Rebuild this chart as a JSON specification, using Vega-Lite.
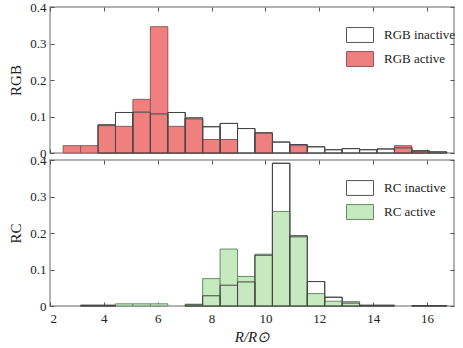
{
  "$schema": "https://vega.github.io/schema/vega-lite/v6.json",
  "padding": {"left": 8, "top": 0, "right": 9, "bottom": 3},
  "background": "white",
  "bounds": "flush",
  "config": {
    "font": "Liberation Serif",
    "view": {"stroke": "#999999", "strokeWidth": 1.5},
    "axis": {"domain": false, "grid": false, "labelFontSize": 13, "titleFontSize": 15, "labelColor": "#222222", "tickColor": "#555555", "titleFontWeight": "normal", "titleColor": "#222222", "tickSize": -4},
    "legend": {"orient": "none", "title": null, "labelFontSize": 13, "labelColor": "#222222", "symbolType": "M-1,-0.55H1V0.55H-1Z", "symbolSize": 729, "symbolStrokeWidth": 1, "labelOffset": 10, "rowPadding": -7.5}
  },
  "data": {"values": [
    {"p":"RGB","s":"RGB active","st":"active","a":2.490,"b":3.137,"v":0.020},
    {"p":"RGB","s":"RGB active","st":"active","a":3.137,"b":3.785,"v":0.020},
    {"p":"RGB","s":"RGB active","st":"active","a":3.785,"b":4.432,"v":0.075},
    {"p":"RGB","s":"RGB active","st":"active","a":4.432,"b":5.079,"v":0.073},
    {"p":"RGB","s":"RGB active","st":"active","a":5.079,"b":5.727,"v":0.147},
    {"p":"RGB","s":"RGB active","st":"active","a":5.727,"b":6.374,"v":0.346},
    {"p":"RGB","s":"RGB active","st":"active","a":6.374,"b":7.021,"v":0.073},
    {"p":"RGB","s":"RGB active","st":"active","a":7.021,"b":7.668,"v":0.093},
    {"p":"RGB","s":"RGB active","st":"active","a":7.668,"b":8.316,"v":0.037},
    {"p":"RGB","s":"RGB active","st":"active","a":8.316,"b":8.963,"v":0.037},
    {"p":"RGB","s":"RGB active","st":"active","a":9.610,"b":10.258,"v":0.055},
    {"p":"RGB","s":"RGB active","st":"active","a":10.905,"b":11.552,"v":0.020},
    {"p":"RGB","s":"RGB active","st":"active","a":14.789,"b":15.436,"v":0.020},
    {"p":"RGB","s":"RGB active","st":"active","a":15.436,"b":16.083,"v":0.004},
    {"p":"RGB","s":"RGB inactive","st":"inactive","a":3.785,"b":4.432,"v":0.077},
    {"p":"RGB","s":"RGB inactive","st":"inactive","a":4.432,"b":5.079,"v":0.111},
    {"p":"RGB","s":"RGB inactive","st":"inactive","a":5.079,"b":5.727,"v":0.112},
    {"p":"RGB","s":"RGB inactive","st":"inactive","a":5.727,"b":6.374,"v":0.107},
    {"p":"RGB","s":"RGB inactive","st":"inactive","a":6.374,"b":7.021,"v":0.111},
    {"p":"RGB","s":"RGB inactive","st":"inactive","a":7.021,"b":7.668,"v":0.096},
    {"p":"RGB","s":"RGB inactive","st":"inactive","a":7.668,"b":8.316,"v":0.072},
    {"p":"RGB","s":"RGB inactive","st":"inactive","a":8.316,"b":8.963,"v":0.081},
    {"p":"RGB","s":"RGB inactive","st":"inactive","a":8.963,"b":9.610,"v":0.067},
    {"p":"RGB","s":"RGB inactive","st":"inactive","a":9.610,"b":10.258,"v":0.055},
    {"p":"RGB","s":"RGB inactive","st":"inactive","a":10.258,"b":10.905,"v":0.030},
    {"p":"RGB","s":"RGB inactive","st":"inactive","a":10.905,"b":11.552,"v":0.023},
    {"p":"RGB","s":"RGB inactive","st":"inactive","a":11.552,"b":12.200,"v":0.017},
    {"p":"RGB","s":"RGB inactive","st":"inactive","a":12.200,"b":12.847,"v":0.009},
    {"p":"RGB","s":"RGB inactive","st":"inactive","a":12.847,"b":13.494,"v":0.012},
    {"p":"RGB","s":"RGB inactive","st":"inactive","a":13.494,"b":14.141,"v":0.009},
    {"p":"RGB","s":"RGB inactive","st":"inactive","a":14.141,"b":14.789,"v":0.011},
    {"p":"RGB","s":"RGB inactive","st":"inactive","a":14.789,"b":15.436,"v":0.014},
    {"p":"RGB","s":"RGB inactive","st":"inactive","a":15.436,"b":16.083,"v":0.006},
    {"p":"RGB","s":"RGB inactive","st":"inactive","a":16.083,"b":16.731,"v":0.003},
    {"p":"RC","s":"RC active","st":"active","a":4.432,"b":5.079,"v":0.006},
    {"p":"RC","s":"RC active","st":"active","a":5.079,"b":5.727,"v":0.006},
    {"p":"RC","s":"RC active","st":"active","a":5.727,"b":6.374,"v":0.006},
    {"p":"RC","s":"RC active","st":"active","a":7.021,"b":7.668,"v":0.005},
    {"p":"RC","s":"RC active","st":"active","a":7.668,"b":8.316,"v":0.075},
    {"p":"RC","s":"RC active","st":"active","a":8.316,"b":8.963,"v":0.156},
    {"p":"RC","s":"RC active","st":"active","a":8.963,"b":9.610,"v":0.081},
    {"p":"RC","s":"RC active","st":"active","a":9.610,"b":10.258,"v":0.142},
    {"p":"RC","s":"RC active","st":"active","a":10.258,"b":10.905,"v":0.259},
    {"p":"RC","s":"RC active","st":"active","a":10.905,"b":11.552,"v":0.189},
    {"p":"RC","s":"RC active","st":"active","a":11.552,"b":12.200,"v":0.034},
    {"p":"RC","s":"RC active","st":"active","a":12.200,"b":12.847,"v":0.013},
    {"p":"RC","s":"RC active","st":"active","a":12.847,"b":13.494,"v":0.012},
    {"p":"RC","s":"RC inactive","st":"inactive","a":3.137,"b":3.785,"v":0.002},
    {"p":"RC","s":"RC inactive","st":"inactive","a":3.785,"b":4.432,"v":0.002},
    {"p":"RC","s":"RC inactive","st":"inactive","a":7.021,"b":7.668,"v":0.003},
    {"p":"RC","s":"RC inactive","st":"inactive","a":7.668,"b":8.316,"v":0.028},
    {"p":"RC","s":"RC inactive","st":"inactive","a":8.316,"b":8.963,"v":0.057},
    {"p":"RC","s":"RC inactive","st":"inactive","a":8.963,"b":9.610,"v":0.066},
    {"p":"RC","s":"RC inactive","st":"inactive","a":9.610,"b":10.258,"v":0.139},
    {"p":"RC","s":"RC inactive","st":"inactive","a":10.258,"b":10.905,"v":0.391},
    {"p":"RC","s":"RC inactive","st":"inactive","a":10.905,"b":11.552,"v":0.192},
    {"p":"RC","s":"RC inactive","st":"inactive","a":11.552,"b":12.200,"v":0.067},
    {"p":"RC","s":"RC inactive","st":"inactive","a":12.200,"b":12.847,"v":0.024},
    {"p":"RC","s":"RC inactive","st":"inactive","a":12.847,"b":13.494,"v":0.008},
    {"p":"RC","s":"RC inactive","st":"inactive","a":13.494,"b":14.141,"v":0.002},
    {"p":"RC","s":"RC inactive","st":"inactive","a":14.141,"b":14.789,"v":0.002},
    {"p":"RC","s":"RC inactive","st":"inactive","a":15.436,"b":16.083,"v":0.001},
    {"p":"RC","s":"RC inactive","st":"inactive","a":16.083,"b":16.731,"v":0.001}
  ]},
  "spacing": 7,
  "resolve": {
    "scale": {"x": "independent", "y": "independent", "fill": "independent", "stroke": "independent", "strokeDash": "independent"},
    "legend": {"fill": "independent", "stroke": "independent", "strokeDash": "independent"}
  },
  "vconcat": [
    {
      "width": 404, "height": 146,
      "transform": [{"filter": "datum.p === 'RGB'"}],
      "layer": [
        {
          "transform": [{"filter": "datum.st === 'inactive'"}],
          "mark": {"type": "rect", "strokeWidth": 1},
          "encoding": {
            "x": {"field": "a", "type": "quantitative", "scale": {"domain": [2, 17], "nice": false}, "axis": {"orient": "bottom", "values": [2,4,6,8,10,12,14,16], "labels": false, "title": null}},
            "x2": {"field": "b"},
            "y": {"field": "v", "type": "quantitative", "scale": {"domain": [0, 0.4], "nice": false}, "axis": {"orient": "left", "values": [0,0.1,0.2,0.3,0.4], "format": "~g", "title": "RGB", "labelPadding": 8, "titlePadding": 6}},
            "y2": {"datum": 0},
            "fill": {"field": "s", "type": "nominal", "scale": {"domain": ["RGB inactive", "RGB active"], "range": ["#ffffff", "#f08080"]}, "legend": {"legendX": 296, "legendY": 14}},
            "stroke": {"field": "s", "type": "nominal", "scale": {"domain": ["RGB inactive", "RGB active"], "range": ["#555555", "#8a5a5a"]}, "legend": {"legendX": 296, "legendY": 14}},
            "strokeDash": {"field": "s", "type": "nominal", "scale": {"domain": ["RGB inactive", "RGB active"], "range": [[1, 0], [1, 1.5]]}, "legend": {"legendX": 296, "legendY": 14}}
          }
        },
        {
          "transform": [{"filter": "datum.st === 'active'"}],
          "mark": {"type": "rect", "strokeWidth": 1},
          "encoding": {
            "x": {"field": "a", "type": "quantitative", "axis": null},
            "x2": {"field": "b"},
            "y": {"field": "v", "type": "quantitative", "axis": null},
            "y2": {"datum": 0},
            "fill": {"field": "s", "type": "nominal"},
            "stroke": {"field": "s", "type": "nominal"},
            "strokeDash": {"field": "s", "type": "nominal"}
          }
        },
        {
          "transform": [{"filter": "datum.st === 'inactive'"}],
          "mark": {"type": "rect", "fillOpacity": 0, "stroke": "#444444", "strokeWidth": 1},
          "encoding": {
            "x": {"field": "a", "type": "quantitative", "axis": {"orient": "top", "values": [2,4,6,8,10,12,14,16], "labels": false, "title": null}},
            "x2": {"field": "b"},
            "y": {"field": "v", "type": "quantitative", "axis": {"orient": "right", "values": [0,0.1,0.2,0.3,0.4], "labels": false, "title": null}},
            "y2": {"datum": 0}
          }
        }
      ]
    },
    {
      "width": 404, "height": 146,
      "transform": [{"filter": "datum.p === 'RC'"}],
      "layer": [
        {
          "transform": [{"filter": "datum.st === 'inactive'"}],
          "mark": {"type": "rect", "strokeWidth": 1},
          "encoding": {
            "x": {"field": "a", "type": "quantitative", "scale": {"domain": [2, 17], "nice": false}, "axis": {"orient": "bottom", "values": [2,4,6,8,10,12,14,16], "title": "R/R⊙", "titleFontStyle": "italic", "labelPadding": 10, "titlePadding": 4}},
            "x2": {"field": "b"},
            "y": {"field": "v", "type": "quantitative", "scale": {"domain": [0, 0.4], "nice": false}, "axis": {"orient": "left", "values": [0,0.1,0.2,0.3,0.4], "format": "~g", "title": "RC", "labelPadding": 8, "titlePadding": 6}},
            "y2": {"datum": 0},
            "fill": {"field": "s", "type": "nominal", "scale": {"domain": ["RC inactive", "RC active"], "range": ["#ffffff", "#c7e9c0"]}, "legend": {"legendX": 296, "legendY": 14}},
            "stroke": {"field": "s", "type": "nominal", "scale": {"domain": ["RC inactive", "RC active"], "range": ["#555555", "#6a8a6a"]}, "legend": {"legendX": 296, "legendY": 14}},
            "strokeDash": {"field": "s", "type": "nominal", "scale": {"domain": ["RC inactive", "RC active"], "range": [[1, 0], [1, 1.5]]}, "legend": {"legendX": 296, "legendY": 14}}
          }
        },
        {
          "transform": [{"filter": "datum.st === 'active'"}],
          "mark": {"type": "rect", "strokeWidth": 1},
          "encoding": {
            "x": {"field": "a", "type": "quantitative", "axis": null},
            "x2": {"field": "b"},
            "y": {"field": "v", "type": "quantitative", "axis": null},
            "y2": {"datum": 0},
            "fill": {"field": "s", "type": "nominal"},
            "stroke": {"field": "s", "type": "nominal"},
            "strokeDash": {"field": "s", "type": "nominal"}
          }
        },
        {
          "transform": [{"filter": "datum.st === 'inactive'"}],
          "mark": {"type": "rect", "fillOpacity": 0, "stroke": "#444444", "strokeWidth": 1},
          "encoding": {
            "x": {"field": "a", "type": "quantitative", "axis": {"orient": "top", "values": [2,4,6,8,10,12,14,16], "labels": false, "title": null}},
            "x2": {"field": "b"},
            "y": {"field": "v", "type": "quantitative", "axis": {"orient": "right", "values": [0,0.1,0.2,0.3,0.4], "labels": false, "title": null}},
            "y2": {"datum": 0}
          }
        }
      ]
    }
  ]
}
